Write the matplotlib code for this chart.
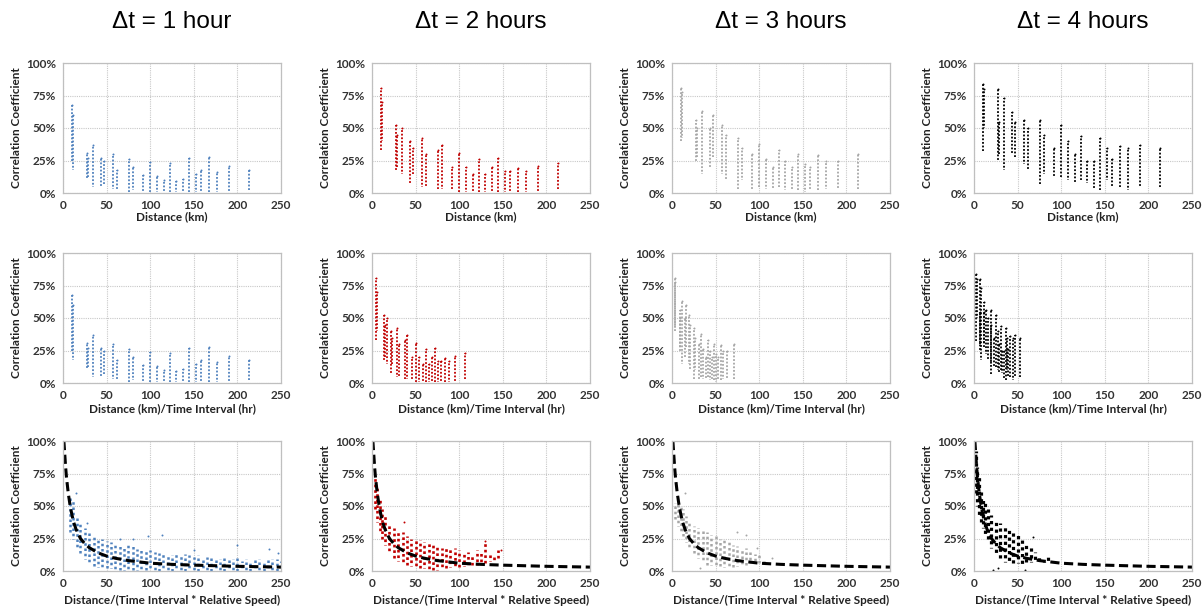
import numpy as np
import matplotlib.pyplot as plt

plt.rcParams['font.family'] = ['Lato', 'DejaVu Sans']

# ---- data -----------------------------------------------------------------
dt_hours = [1, 2, 3, 4]
titles = ['Δt = 1 hour', 'Δt = 2 hours', 'Δt = 3 hours', 'Δt = 4 hours']
colors = ['#4f81bd', '#c00000', '#a6a6a6', '#000000']

# distances (km) of the station pairs, shared by every time interval
distances = [10, 12, 27, 29, 34, 44, 47, 57, 62, 76, 80, 92, 100, 108, 116,
             123, 130, 138, 145, 152, 158, 167, 177, 190, 213]

# low / high correlation (%) seen at each distance
lo_1h = [25, 18, 11, 12, 5, 5, 7, 3, 2, 1, 2, 1, 1, 1, 1, 1, 1, 1, 1, 1, 1, 1, 1, 1, 2]
hi_1h = [68, 60, 31, 27, 37, 27, 25, 30, 18, 26, 20, 14, 24, 13, 10, 23, 9, 11, 27, 15, 18, 28, 16, 21, 18]
lo_2h = [33, 40, 17, 20, 15, 7, 15, 5, 5, 3, 3, 2, 1, 1, 1, 1, 1, 1, 1, 1, 1, 1, 1, 1, 3]
hi_2h = [81, 70, 52, 45, 50, 40, 35, 42, 30, 33, 37, 20, 31, 20, 15, 26, 15, 20, 27, 17, 17, 19, 17, 21, 23]
lo_3h = [40, 42, 24, 28, 15, 19, 28, 15, 10, 3, 10, 2, 5, 3, 3, 5, 2, 2, 2, 1, 2, 2, 3, 3, 3]
hi_3h = [81, 78, 56, 50, 63, 50, 60, 52, 45, 42, 35, 30, 38, 26, 20, 33, 25, 20, 30, 22, 20, 29, 25, 25, 30]
lo_4h = [32, 50, 25, 30, 18, 30, 28, 22, 18, 7, 15, 12, 12, 10, 8, 10, 8, 3, 2, 10, 5, 5, 2, 5, 5]
hi_4h = [84, 80, 80, 55, 73, 62, 55, 56, 50, 56, 45, 35, 52, 40, 30, 44, 25, 25, 42, 35, 26, 36, 35, 37, 35]
lows = [lo_1h, lo_2h, lo_3h, lo_4h]
highs = [hi_1h, hi_2h, hi_3h, hi_4h]

# bottom row: normalised distance bins with low / high of the point cloud
r3x_1h = [8, 12, 16, 20, 25, 30, 35, 40, 45, 50, 55, 60, 65, 70, 75, 80, 85, 90, 95, 100,
          105, 110, 115, 120, 125, 130, 135, 140, 145, 150, 155, 160, 165, 170, 175, 180,
          185, 190, 195, 200, 205, 210, 215, 220, 225, 230, 235, 240, 245, 250]
r3lo_1h = [30, 25, 18, 14, 9, 6, 4, 3, 2, 2, 2, 1, 1, 1, 1, 1, 1, 1, 1, 0, 0, 0, 0, 0, 0,
           0, 0, 0, 0, 0, 0, 0, 0, 0, 0, 0, 0, 0, 0, 0, 0, 0, 0, 0, 0, 0, 0, 0, 0, 0]
r3hi_1h = [58, 55, 42, 36, 33, 30, 27, 25, 25, 23, 22, 21, 20, 19, 20, 19, 17, 16, 17, 16,
           15, 14, 15, 13, 12, 13, 12, 13, 12, 11, 12, 10, 11, 10, 10, 9, 10, 9, 9, 10,
           8, 9, 8, 10, 9, 8, 10, 9, 9, 8]
r3x_2h = [3, 6, 9, 12, 15, 20, 25, 30, 35, 40, 45, 50, 55, 60, 65, 70, 75, 80, 85, 90,
          95, 100, 105, 110, 115, 120, 125, 130, 135, 140, 145]
r3lo_2h = [48, 38, 30, 25, 20, 15, 10, 8, 6, 5, 4, 3, 2, 2, 1, 1, 1, 2, 2, 3,
           3, 3, 4, 4, 5, 5, 6, 6, 8, 8, 10]
r3hi_2h = [72, 65, 55, 48, 42, 37, 33, 30, 30, 27, 25, 25, 24, 22, 22, 20, 20, 18, 19, 17,
           18, 16, 14, 15, 13, 16, 14, 22, 14, 12, 16]
r3x_3h = [4, 7, 10, 13, 16, 20, 25, 30, 35, 40, 45, 50, 55, 60, 65, 70, 75, 80, 85, 90,
          95, 100, 105]
r3lo_3h = [40, 35, 30, 27, 22, 18, 14, 10, 8, 5, 5, 4, 4, 3, 3, 3, 4, 5, 5, 6, 7, 6, 8]
r3hi_3h = [52, 52, 50, 48, 42, 38, 35, 33, 32, 30, 28, 28, 25, 25, 22, 20, 19, 17, 18, 15,
           13, 14, 10]
r3x_4h = [2, 4, 6, 8, 10, 13, 16, 20, 25, 30, 35, 40, 45, 50, 55, 60, 65, 70, 75, 80, 85]
r3lo_4h = [60, 50, 42, 38, 33, 28, 25, 18, 13, 10, 7, 7, 6, 6, 5, 7, 7, 8, 8, 7, 7]
r3hi_4h = [92, 80, 72, 62, 55, 52, 48, 43, 40, 37, 35, 32, 30, 28, 25, 22, 20, 15, 12, 10, 11]
r3_x = [r3x_1h, r3x_2h, r3x_3h, r3x_4h]
r3_lo = [r3lo_1h, r3lo_2h, r3lo_3h, r3lo_4h]
r3_hi = [r3hi_1h, r3hi_2h, r3hi_3h, r3hi_4h]

# isolated points of the bottom-row clouds
out_x = [[15, 28, 65, 80, 97, 114, 150, 200, 236, 246],
         [37, 130, 148],
         [15, 32, 75, 85, 97, 115],
         [22, 27, 58, 68]]
out_y = [[60, 37, 25, 25, 27, 28, 16, 20, 17, 14],
         [38, 23, 16],
         [60, 2, 30, 28, 18, 10],
         [1, 2, 1, 26]]

# fitted curve (dashed)
curve_x = [1, 2, 3, 4, 5, 6, 8, 10, 12, 15, 20, 25, 30, 40, 50, 60, 75, 100, 125, 150, 200, 250]
curve_y = [100, 90, 80, 72, 66, 60, 51, 44, 38, 32, 25, 21, 18, 14, 11.5, 9.8, 8, 6, 5.1, 4.5, 3.6, 3]

xlabels = ['Distance (km)', 'Distance (km)/Time Interval (hr)',
           'Distance/(Time Interval * Relative Speed)']
xticks = [0, 50, 100, 150, 200, 250]
yticks = [0, 25, 50, 75, 100]
ytick_labels = ['0%', '25%', '50%', '75%', '100%']

# ---- figure ----------------------------------------------------------------
W, H = 1204, 612
fig = plt.figure(figsize=(W / 100, H / 100), dpi=100)

col_left = [63, 372, 672, 974]
row_top = [63, 253, 441]
label_off = [18, 20, 24]
aw, ah = 218, 130

# dotted strips, the dash offset varies so that dots do not line up
strip = [(k * 0.7, (1, 1.0)) for k in range(3)]
cloud = [(k * 0.8, (1, 1.1)) for k in range(3)]
cloud_lw = [1.8, 1.9, 1.8, 2.3]


def styles(n, pool):
    return [pool[k % len(pool)] for k in range(n)]


for j in range(4):
    for i in range(3):
        ax = fig.add_axes([col_left[j] / W, 1 - (row_top[i] + ah) / H, aw / W, ah / H])
        c = colors[j]
        if i < 2:
            scale = 1 if i == 0 else dt_hours[j]
            xs = np.array(distances) / scale
            ax.vlines(xs, lows[j], highs[j], colors=c, lw=1.3,
                      linestyles=styles(len(xs), strip))
            ax.scatter(xs, highs[j], s=2, color=c, lw=0)
        else:
            ax.vlines(r3_x[j], r3_lo[j], r3_hi[j], colors=c, lw=cloud_lw[j],
                      linestyles=styles(len(r3_x[j]), cloud))
            ax.scatter(out_x[j], out_y[j], s=2, color=c, lw=0)
            ax.plot(curve_x, curve_y, color='black', lw=2.2, ls=(0, (3, 1.5)))

        ax.set_xlim(0, 250)
        ax.set_ylim(0, 100)
        ax.set_xticks(xticks)
        ax.set_yticks(yticks)
        ax.set_yticklabels(ytick_labels)
        ax.grid(True, color='#c8c8c8', lw=0.8, ls=(0, (1, 1)))
        ax.set_axisbelow(True)
        for s in ax.spines.values():
            s.set_color('#bfbfbf')
            s.set_linewidth(0.9)
        ax.tick_params(length=0, pad=5, labelsize=8.5, labelcolor='#333333')
        for lab in ax.get_xticklabels() + ax.get_yticklabels():
            lab.set_fontweight('bold')
        ax.set_ylabel('Correlation Coefficient', fontsize=8.5, fontweight='bold', color='#222222')
        ax.yaxis.set_label_coords(-41 / aw, 0.5)
        ax.set_xlabel(xlabels[i], fontsize=8.5, fontweight='bold', color='#222222')
        ax.xaxis.set_label_coords(0.5, -label_off[i] / ah)

    fig.text((col_left[j] + aw / 2) / W, 1 - 22 / H, titles[j], ha='center', va='center',
             fontsize=17.5, family=['Liberation Sans', 'DejaVu Sans'])

fig.savefig('out.png', dpi=100)
